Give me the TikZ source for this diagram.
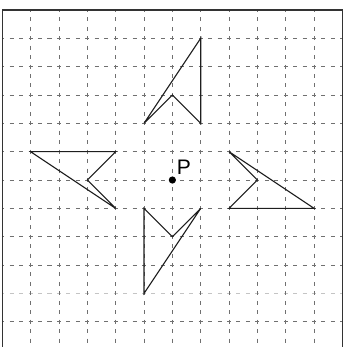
\documentclass[tikz,border=0pt]{standalone}
\usepackage{fontspec}
\setsansfont{Liberation Sans}
\usepackage{xcolor}
\usepackage{tikz}
\usetikzlibrary{calc,positioning}
\definecolor{gridc}{HTML}{707070}
\definecolor{fadec}{HTML}{C4C4C4}
\definecolor{framec}{HTML}{333333}
\definecolor{shapec}{HTML}{1E1E1E}
\tikzset{
  gl/.style={gridc,line width=0.9pt,dash pattern=on 4pt off 5.44pt,dash phase=2pt},
  gf/.style={fadec,line width=1.8pt,dash pattern=on 4pt off 5.44pt,dash phase=2pt},
  sh/.style={shapec,line width=1.1pt,line join=miter}
}
\begin{document}
\begin{tikzpicture}[x=28.33pt,y=28.33pt]
\useasboundingbox (-6.08,-5.89) rectangle (6.16,6.35);
% grid
\foreach \y in {-5,-3,-2,-1,0,1,2,3,4,5}
  \draw[gl] (-6,\y)--(6,\y);
\draw[gf] (-6,-4)--(6,-4);
\foreach \x in {-5,...,5}
  \draw[gl] (\x,6)--(\x,-5.89);
\draw[framec,line width=1.5pt] (-6,-5.89)--(-6,6)--(6,6)--(6,-5.89);
% the four figures
\draw[sh] (-1,2)--(1,5)--(1,2)--(0,3)--cycle;
\draw[sh] (-5,1)--(-2,1)--(-3,0)--(-2,-1)--cycle;
\draw[sh] (2,1)--(3,0)--(2,-1)--(5,-1)--cycle;
\draw[sh] (-1,-1)--(0,-2)--(1,-1)--(-1,-4)--cycle;
% centre
\coordinate (P) at (0,0);
\fill[black] (P) circle (3.6pt);
\node[anchor=base west,inner sep=0pt,font=\sffamily\fontsize{21}{24}\selectfont] (Plab) at ($(P)+(0.15,0.2)$) {P};
\end{tikzpicture}
\end{document}
